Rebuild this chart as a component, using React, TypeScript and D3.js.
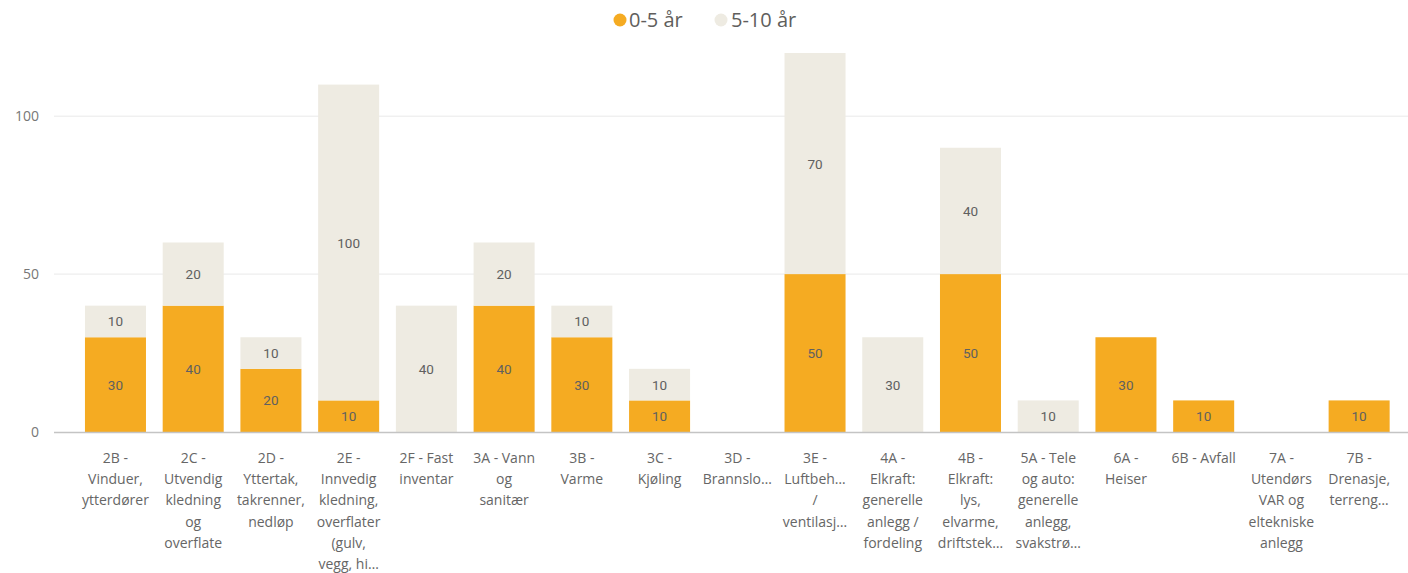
import React from "react";
import * as d3 from "d3";

const categories = [
  "2B", "2C", "2D", "2E", "2F", "3A", "3B", "3C", "3D", "3E", "4A", "4B", "5A", "6A", "6B", "7A", "7B",
];
const labelLines: string[][] = [
  ["2B -", "Vinduer,", "ytterdører"],
  ["2C -", "Utvendig", "kledning", "og", "overflate"],
  ["2D -", "Yttertak,", "takrenner,", "nedløp"],
  ["2E -", "Innvedig", "kledning,", "overflater", "(gulv,", "vegg, hi…"],
  ["2F - Fast", "inventar"],
  ["3A - Vann", "og", "sanitær"],
  ["3B -", "Varme"],
  ["3C -", "Kjøling"],
  ["3D -", "Brannslo…"],
  ["3E -", "Luftbeh…", "/", "ventilasj…"],
  ["4A -", "Elkraft:", "generelle", "anlegg /", "fordeling"],
  ["4B -", "Elkraft:", "lys,", "elvarme,", "driftstek…"],
  ["5A - Tele", "og auto:", "generelle", "anlegg,", "svakstrø…"],
  ["6A -", "Heiser"],
  ["6B - Avfall"],
  ["7A -", "Utendørs", "VAR og", "eltekniske", "anlegg"],
  ["7B -", "Drenasje,", "terreng…"],
];
const series0to5 = [30, 40, 20, 10, 0, 40, 30, 10, 0, 50, 0, 50, 0, 30, 10, 0, 10];
const series5to10 = [10, 20, 10, 100, 40, 20, 10, 10, 0, 70, 30, 40, 10, 0, 0, 0, 0];
const yTicks = [0, 50, 100];
const seriesNames = ["0-5 år", "5-10 år"];
const colors = ["#F5AB22", "#EEEBE2"];

const W = 1408;
const H = 573;

export default function App() {
  const x = d3.scaleBand<string>().domain(categories).range([76.6, 1398]).paddingInner(0.215).paddingOuter(0.1075);
  const y = d3.scaleLinear().domain([0, 120]).range([432, 53]);
  const rows = categories.map((c, i) => ({ key: c, a: series0to5[i], b: series5to10[i] }));
  const stack = d3.stack<any>().keys(["a", "b"])(rows);
  const labelFont = "Roboto, 'DejaVu Sans', sans-serif";
  const uiFont = "'Open Sans', 'Noto Sans', sans-serif";

  return (
    <div style={{ position: "absolute", left: 0, top: 0 }}>
      <svg width={W} height={H} style={{ display: "block" }}>
        <rect width={W} height={H} fill="#fff" />
        {/* legend */}
        <g fontFamily={uiFont} fontSize={20} fill="#605E5C">
          <circle cx={620} cy={20} r={6.5} fill={colors[0]} />
          <text x={629} y={27}>{seriesNames[0]}</text>
          <circle cx={721} cy={20} r={6.5} fill={colors[1]} />
          <text x={731} y={27}>{seriesNames[1]}</text>
        </g>
        {/* grid */}
        {yTicks.map((t) => (
          <g key={t}>
            {t !== 0 && <line x1={54} x2={W} y1={y(t)} y2={y(t)} stroke="#E9E9E9" strokeWidth={1} />}
            <text x={39} y={y(t) + 5} textAnchor="end" fontFamily={uiFont} fontSize={14} fill="#777">
              {t}
            </text>
          </g>
        ))}
        {/* bars */}
        {stack.map((s, si) => (
          <g key={si}>
            {s.map((d: any, i: number) => {
              const v = d[1] - d[0];
              if (v <= 0) return null;
              const x0 = x(categories[i])!;
              const y0 = y(d[1]);
              const h = y(d[0]) - y(d[1]);
              return (
                <g key={i}>
                  <rect x={x0} y={y0} width={x.bandwidth()} height={h} fill={colors[si]} />
                  <text
                    x={x0 + x.bandwidth() / 2}
                    y={y0 + h / 2 + 5}
                    textAnchor="middle"
                    fontFamily={labelFont}
                    fontSize={13.5}
                    fill="#606060"
                  >
                    {v}
                  </text>
                </g>
              );
            })}
          </g>
        ))}
        <line x1={54} x2={W} y1={432.5} y2={432.5} stroke="#C4C4C4" strokeWidth={1.5} />
        {/* x labels */}
        {categories.map((c, i) => (
          <text key={c} textAnchor="middle" fontFamily={uiFont} fontSize={14} fill="#666">
            {labelLines[i].map((ln, j) => (
              <tspan key={j} x={x(c)! + x.bandwidth() / 2} y={463 + j * 21.2}>
                {ln}
              </tspan>
            ))}
          </text>
        ))}
      </svg>
    </div>
  );
}
